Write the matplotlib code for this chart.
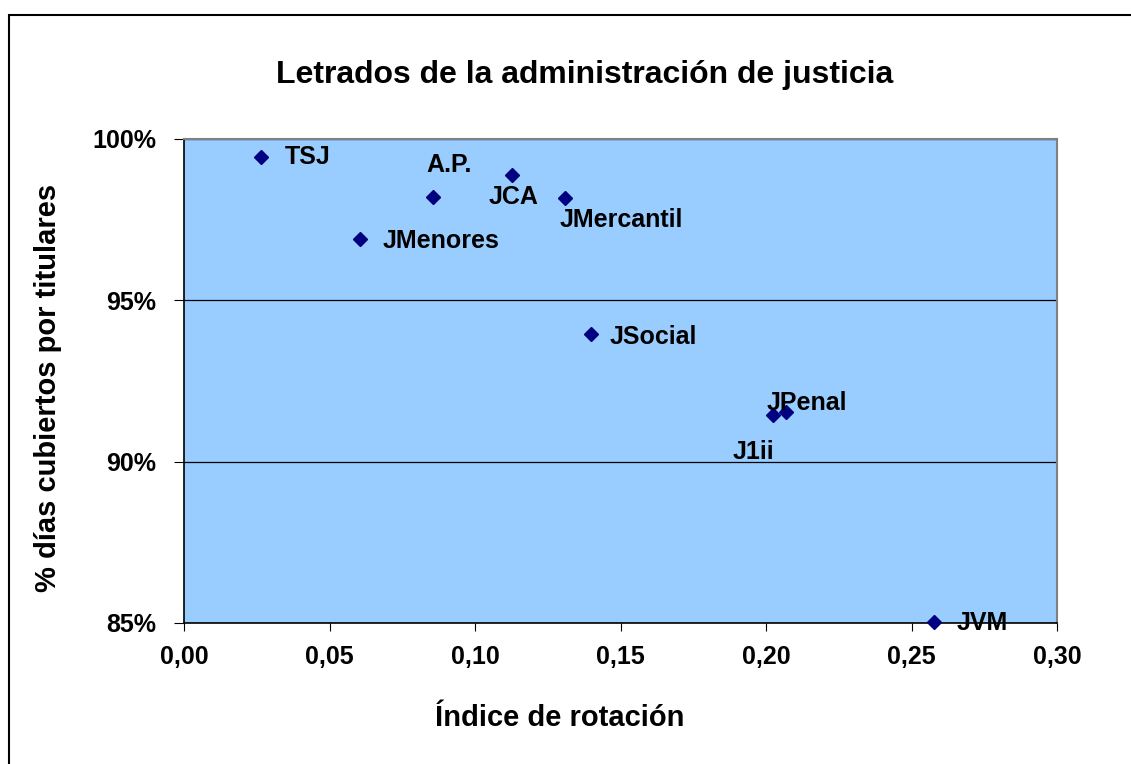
import matplotlib
matplotlib.use("Agg")
import matplotlib.pyplot as plt
from matplotlib.ticker import FuncFormatter, MultipleLocator
from matplotlib.patches import Rectangle

plt.rcParams['font.family'] = ['Liberation Sans', 'DejaVu Sans']
plt.rcParams['font.weight'] = 'bold'

# datos
organos = ["TSJ", "A.P.", "JCA", "JMercantil", "JMenores",
           "JSocial", "J1ii", "JPenal", "JVM"]
rotacion = [0.0265, 0.0856, 0.1127, 0.1310, 0.0605,
            0.1400, 0.2024, 0.2069, 0.2577]
cubiertos = [0.9944, 0.9820, 0.9888, 0.9817, 0.9690,
             0.9396, 0.9145, 0.9154, 0.8503]
# posicion de cada etiqueta respecto al punto (en pixeles)
offsets = [(24, 0, 'left'), (16, 32, 'center'), (2, -22, 'center'),
           (-6, -22, 'left'), (23, -2, 'left'), (18, -3, 'left'),
           (-20, -37, 'center'), (-19, 9, 'left'), (23, -1, 'left')]

fig = plt.figure(figsize=(11.31, 7.64), dpi=100)
ax = fig.add_axes([184 / 1131, 1 - 623 / 764, 873 / 1131, 484 / 764])
ax.set_facecolor('#99ccff')

ax.plot(rotacion, cubiertos, linestyle='none', marker='D',
        markersize=7, color='#000080', zorder=3, clip_on=False)

for name, x, y, (dx, dy, ha) in zip(organos, rotacion, cubiertos, offsets):
    ax.annotate(name, (x, y), xytext=(dx, dy), textcoords='offset pixels',
                ha=ha, va='center', fontsize=18, fontweight='bold',
                zorder=4, annotation_clip=False)

ax.set_xlim(0, 0.30)
ax.set_ylim(0.85, 1.0)
ax.xaxis.set_major_locator(MultipleLocator(0.05))
ax.yaxis.set_major_locator(MultipleLocator(0.05))
ax.xaxis.set_major_formatter(FuncFormatter(lambda v, p: f"{v:.2f}".replace('.', ',')))
ax.yaxis.set_major_formatter(FuncFormatter(lambda v, p: f"{v * 100:.0f}%"))
ax.tick_params(axis='both', labelsize=18, direction='out', color='black')
ax.tick_params(axis='x', length=6, pad=10)
ax.tick_params(axis='y', length=7, pad=13)
ax.grid(axis='y', color='black', linewidth=0.9)
ax.set_axisbelow(True)

for s in ['top', 'right']:
    ax.spines[s].set_color('#808080')
    ax.spines[s].set_linewidth(1.5)
for s in ['left', 'bottom']:
    ax.spines[s].set_color('black')
    ax.spines[s].set_linewidth(1.2)

ax.set_xlabel("Índice de rotación", fontsize=21, fontweight='bold')
ax.set_ylabel("% días cubiertos por titulares", fontsize=21, fontweight='bold')
ax.xaxis.set_label_coords((560 - 184) / 873, (623 - 718) / 484)
ax.yaxis.set_label_coords((48 - 184) / 873, (623 - 388) / 484)
ax.xaxis.label.set_va('center')
ax.yaxis.label.set_va('center')
fig.text(585 / 1131, 1 - 75 / 764, "Letrados de la administración de justicia",
         ha='center', va='center', fontsize=23, fontweight='bold')

# marco exterior del grafico
fig.patches.append(Rectangle((8.5 / 1131, -0.05), 1.2, 1 - 14.5 / 764 + 0.05,
                             transform=fig.transFigure, fill=False,
                             edgecolor='black', linewidth=1.5))

fig.savefig("out.png", dpi=100)
